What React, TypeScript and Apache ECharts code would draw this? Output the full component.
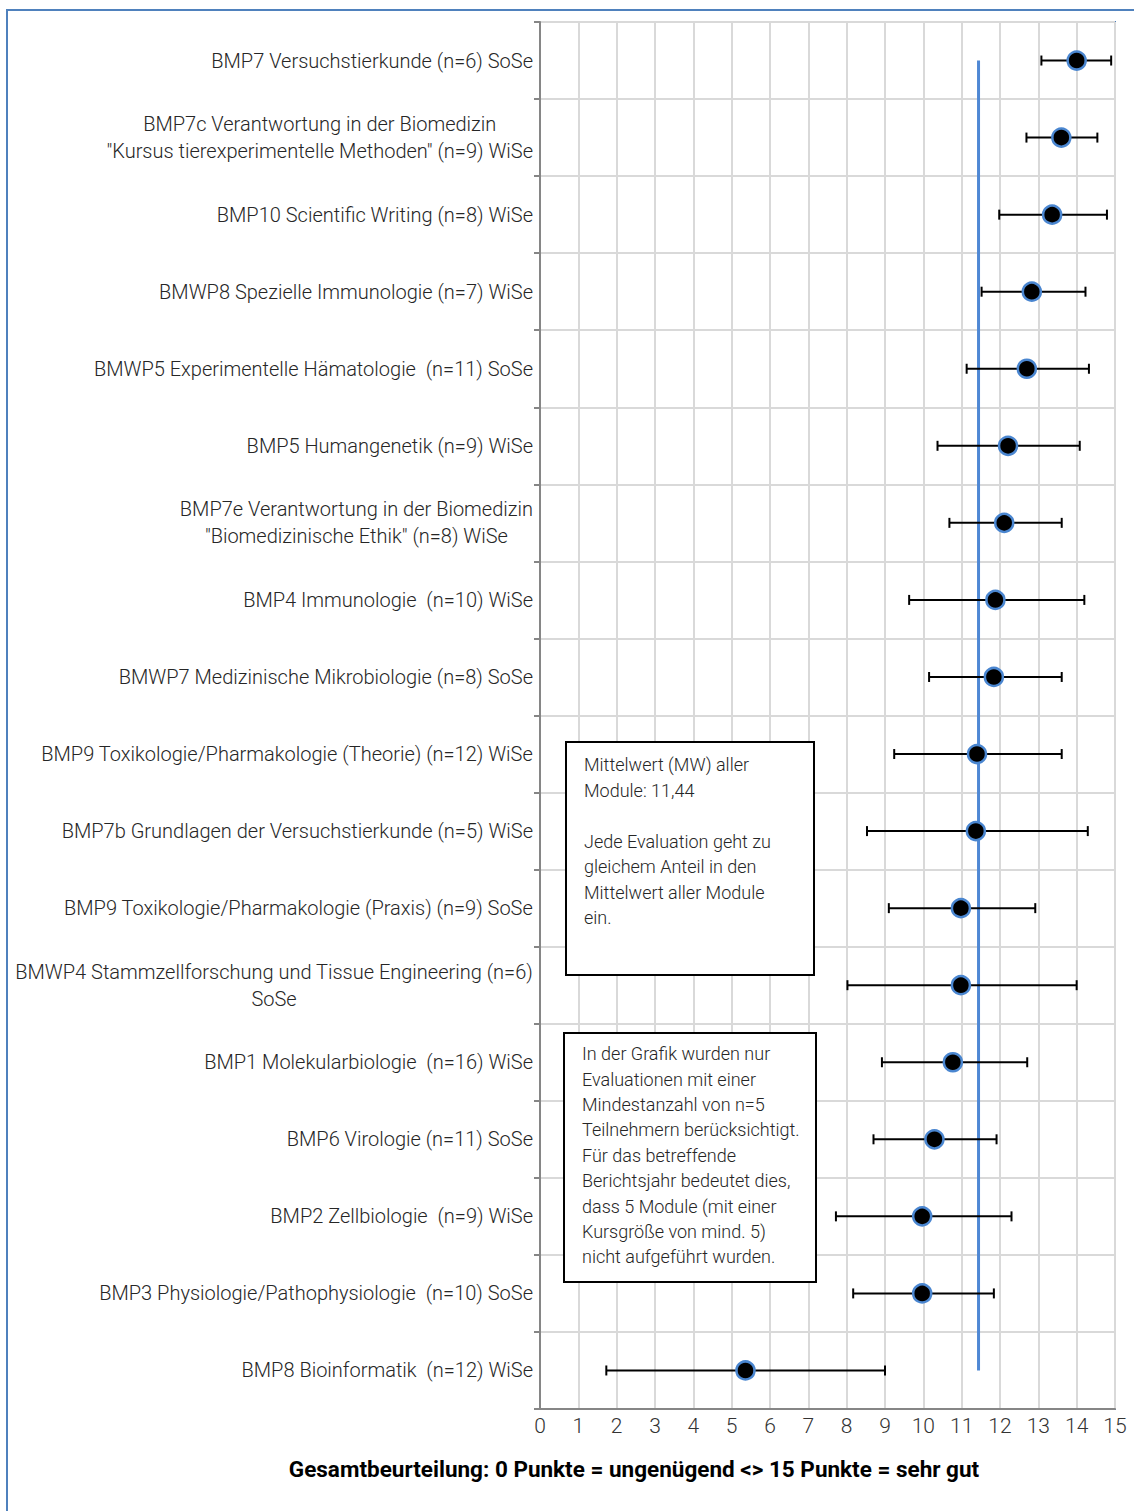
import React, { useEffect, useRef } from "react";
import * as echarts from "echarts";

const categories: string[] = [
  "BMP7 Versuchstierkunde (n=6) SoSe",
  "BMP7c Verantwortung in der Biomedizin\n\"Kursus tierexperimentelle Methoden\" (n=9) WiSe",
  "BMP10 Scientific Writing (n=8) WiSe",
  "BMWP8 Spezielle Immunologie (n=7) WiSe",
  "BMWP5 Experimentelle Hämatologie  (n=11) SoSe",
  "BMP5 Humangenetik (n=9) WiSe",
  "BMP7e Verantwortung in der Biomedizin\n\"Biomedizinische Ethik\" (n=8) WiSe",
  "BMP4 Immunologie  (n=10) WiSe",
  "BMWP7 Medizinische Mikrobiologie (n=8) SoSe",
  "BMP9 Toxikologie/Pharmakologie (Theorie) (n=12) WiSe",
  "BMP7b Grundlagen der Versuchstierkunde (n=5) WiSe",
  "BMP9 Toxikologie/Pharmakologie (Praxis) (n=9) SoSe",
  "BMWP4 Stammzellforschung und Tissue Engineering (n=6)\nSoSe",
  "BMP1 Molekularbiologie  (n=16) WiSe",
  "BMP6 Virologie (n=11) SoSe",
  "BMP2 Zellbiologie  (n=9) WiSe",
  "BMP3 Physiologie/Pathophysiologie  (n=10) SoSe",
  "BMP8 Bioinformatik  (n=12) WiSe",
];
const means: number[] = [14.0, 13.6, 13.36, 12.83, 12.7, 12.21, 12.11, 11.88, 11.84, 11.4, 11.37, 10.98, 10.98, 10.77, 10.29, 9.97, 9.97, 5.36];
const lows: number[] = [13.08, 12.69, 11.98, 11.52, 11.13, 10.37, 10.68, 9.63, 10.15, 9.24, 8.53, 9.1, 8.02, 8.92, 8.7, 7.72, 8.17, 1.73];
const highs: number[] = [14.9, 14.54, 14.79, 14.23, 14.32, 14.08, 13.61, 14.2, 13.61, 13.61, 14.29, 12.92, 14.0, 12.71, 11.91, 12.3, 11.84, 9.0];
const overallMean = 11.44;
const xMin = 0;
const xMax = 15;
const xInterval = 1;

const axisTitle = "Gesamtbeurteilung: 0 Punkte = ungenügend <> 15 Punkte = sehr gut";
const box1Text = "Mittelwert (MW) aller\nModule: 11,44\n\nJede Evaluation geht zu\ngleichem Anteil in den\nMittelwert aller Module\nein.";
const box2Text = "In der Grafik wurden nur\nEvaluationen mit einer\nMindestanzahl von n=5\nTeilnehmern berücksichtigt.\nFür das betreffende\nBerichtsjahr bedeutet dies,\ndass 5 Module (mit einer\nKursgröße von mind. 5)\nnicht aufgeführt wurden.";

const FONT = "Roboto, 'Liberation Sans', sans-serif";

export default function App() {
  const ref = useRef<HTMLDivElement>(null);
  useEffect(() => {
    if (!ref.current) return;
    const chart = echarts.init(ref.current, null, { renderer: "svg" });
    const option: any = {
      animation: false,
      backgroundColor: "#ffffff",
      grid: {
        left: 540,
        right: 19,
        top: 22,
        bottom: 102,
        containLabel: false,
        outerBoundsMode: "none",
        show: true,
        borderColor: "#4a7ebb",
        borderWidth: 2,
        backgroundColor: "transparent",
      },
      xAxis: {
        type: "value",
        min: xMin,
        max: xMax,
        interval: xInterval,
        axisLine: { show: true, lineStyle: { color: "#868686", width: 2 } },
        axisTick: { show: false },
        splitLine: { show: true, lineStyle: { color: "#d9d9d9", width: 2 } },
        axisLabel: { fontFamily: FONT, fontSize: 21, fontWeight: 300, color: "#333333", margin: 6 },
      },
      yAxis: {
        type: "category",
        inverse: true,
        data: categories,
        axisLine: { show: true, lineStyle: { color: "#868686", width: 2 } },
        axisTick: { show: true, length: 6, lineStyle: { color: "#868686", width: 2 } },
        splitLine: { show: true, lineStyle: { color: "#d9d9d9", width: 2 } },
        axisLabel: {
          margin: 7,
          interval: 0,
          formatter: (v: string) => v.split("\n").map((l) => "{c|" + l + "}").join("\n"),
          rich: {
            c: { align: "center", fontFamily: FONT, fontSize: 20, fontWeight: 300, lineHeight: 27, color: "#262626" },
          },
        },
      },
      series: [
        {
          type: "line",
          data: [[overallMean, 0], [overallMean, categories.length - 1]],
          showSymbol: false,
          symbol: "none",
          lineStyle: { color: "#4f88d4", width: 3 },
          z: 2,
        },
        {
          type: "custom",
          data: categories.map((_, i) => [i, lows[i], highs[i]]),
          encode: { x: [1, 2], y: 0 },
          renderItem: (params: any, api: any) => {
            const idx = api.value(0);
            const lo = api.coord([api.value(1), idx]);
            const hi = api.coord([api.value(2), idx]);
            const h = 5;
            const st = { stroke: "#000", lineWidth: 2 };
            return {
              type: "group",
              children: [
                { type: "line", shape: { x1: lo[0], y1: lo[1], x2: hi[0], y2: hi[1] }, style: st },
                { type: "line", shape: { x1: lo[0], y1: lo[1] - h, x2: lo[0], y2: lo[1] + h }, style: st },
                { type: "line", shape: { x1: hi[0], y1: hi[1] - h, x2: hi[0], y2: hi[1] + h }, style: st },
              ],
            };
          },
          z: 3,
        },
        {
          type: "scatter",
          data: means.map((m, i) => [m, i]),
          symbol: "circle",
          symbolSize: 18,
          itemStyle: { color: "#000000", borderColor: "#4a86d0", borderWidth: 2.5, opacity: 1 },
          z: 4,
        },
      ],
      graphic: [
        {
          type: "rect",
          shape: { x: 7, y: 10, width: 1400, height: 1700 },
          style: { fill: "none", stroke: "#4f81bd", lineWidth: 2 },
          silent: true,
          z: 0,
        },
        {
          type: "text",
          x: 634,
          y: 1469,
          style: {
            text: axisTitle,
            font: "bold 22.5px " + FONT,
            fill: "#000",
            textAlign: "center",
            textVerticalAlign: "middle",
          },
        },
        {
          type: "rect",
          shape: { x: 566, y: 742, width: 248, height: 233 },
          style: { fill: "#ffffff", stroke: "#000", lineWidth: 2 },
          z: 10,
        },
        {
          type: "text",
          x: 584,
          y: 752,
          style: {
            text: box1Text,
            font: "300 18px " + FONT,
            lineHeight: 25.5,
            fill: "#262626",
            textAlign: "left",
            textVerticalAlign: "top",
          },
          z: 11,
        },
        {
          type: "rect",
          shape: { x: 564, y: 1033, width: 252, height: 249 },
          style: { fill: "#ffffff", stroke: "#000", lineWidth: 2 },
          z: 10,
        },
        {
          type: "text",
          x: 582,
          y: 1041,
          style: {
            text: box2Text,
            font: "300 18px " + FONT,
            lineHeight: 25.4,
            fill: "#262626",
            textAlign: "left",
            textVerticalAlign: "top",
          },
          z: 11,
        },
      ],
    };
    chart.setOption(option);
    return () => chart.dispose();
  }, []);
  return (
    <div
      ref={ref}
      style={{ position: "absolute", left: 0, top: 0, width: 1134, height: 1511 }}
    />
  );
}
